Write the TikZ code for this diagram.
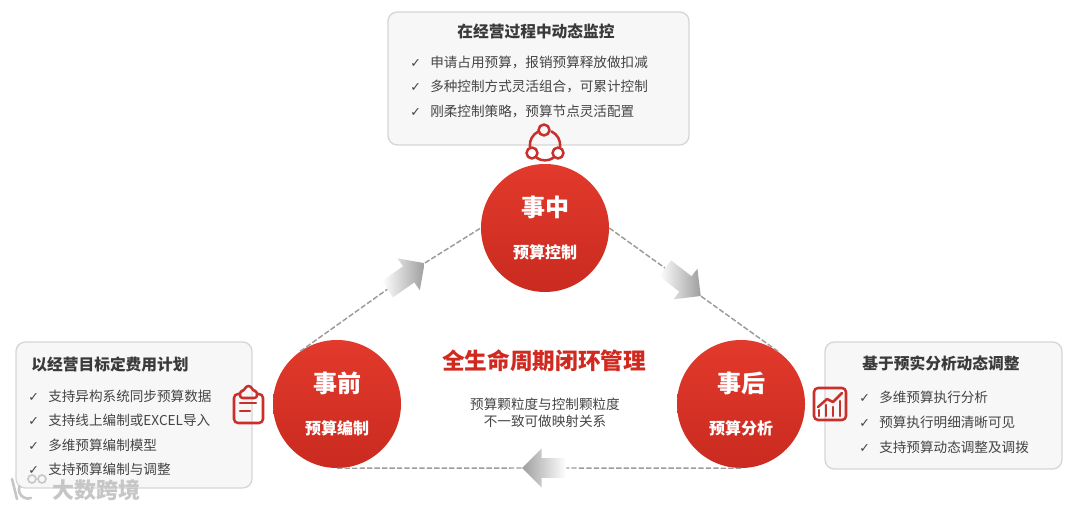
\documentclass[tikz,border=0pt]{standalone}
\usepackage{fontspec}
\setmainfont{Noto Sans CJK SC}
\newfontfamily\symfont{DejaVu Sans}
\usepackage{xcolor}
\usepackage{tikz}
\usetikzlibrary{calc,arrows.meta,positioning,shapes.arrows}
\definecolor{redx}{HTML}{C9302C}
\definecolor{redtop}{HTML}{E23A2C}
\definecolor{redlow}{HTML}{CA2A20}
\definecolor{titlered}{HTML}{D02A20}
\definecolor{softbg}{HTML}{F7F7F7}
\definecolor{boxline}{HTML}{D6D6D6}
\definecolor{inkx}{HTML}{444444}
\definecolor{dashx}{HTML}{A09A9A}
\definecolor{markx}{HTML}{C6C6C6}
\newcommand{\chk}{\makebox[15pt][l]{\symfont\fontsize{9.5}{11}\selectfont ✓}}
\tikzset{
  stagenode/.style={circle,minimum size=96pt,inner sep=0pt,top color=redtop,bottom color=redlow,text=white,align=center,font=\bfseries\fontsize{18}{22}\selectfont},
  cardbox/.style={draw=boxline,line width=1pt,rounded corners=7pt,fill=softbg,inner sep=0pt},
  cardtitle/.style={text=inkx!85!black,font=\bfseries\fontsize{11.8}{14}\selectfont,inner sep=0pt},
  carditem/.style={text=inkx,anchor=west,font=\fontsize{10.2}{13}\selectfont,inner sep=0pt},
  dashline/.style={draw=dashx,line width=1.1pt,dash pattern=on 4pt off 1.6pt},
  flowarrow/.style={single arrow,draw=none,inner xsep=0pt,inner ysep=7.2pt,single arrow head extend=7.2pt,minimum width=28.5pt,left color=white,right color=black!38},
  iconline/.style={draw=redx,line width=1.9pt,line cap=round,line join=round}
}
\begin{document}
\begin{tikzpicture}[x=0.75pt,y=0.75pt]
\useasboundingbox (0,0) rectangle (1080,510);
\node[cardbox,minimum width=225.75pt,minimum height=99.75pt] (boxtop) at (538.5,431.5) {};
\node[cardbox,minimum width=177pt,minimum height=109.5pt] (boxleft) at (134,95) {};
\node[cardbox,minimum width=177.75pt,minimum height=95.25pt] (boxright) at (943.5,104.5) {};
\node[stagenode] (zhong) at (545,282) {事中\\[10pt]{\fontsize{12}{14}\selectfont 预算控制}};
\node[stagenode] (qian) at (337,106) {事前\\[10pt]{\fontsize{12}{14}\selectfont 预算编制}};
\node[stagenode] (hou) at (741,106) {事后\\[10pt]{\fontsize{12}{14}\selectfont 预算分析}};
\node[flowarrow,minimum height=34pt,rotate=35] (arrowa) at (402,231) {};
\node[flowarrow,minimum height=34pt,rotate=-38] (arrowb) at (679,231) {};
\node[flowarrow,minimum height=33pt,rotate=180,left color=black!38,right color=white] (arrowc) at (549,42) {};
\draw[dashline] (qian.125) -- (arrowa.tail);
\draw[dashline] (arrowa.tip) -- (zhong.180);
\draw[dashline] (zhong.0) -- (arrowb.tail);
\draw[dashline] (arrowb.tip) -- (hou.54);
\draw[dashline] (hou.270) -- (arrowc.tail);
\draw[dashline] (arrowc.tip) -- (qian.270);
\node[cardtitle] (titletop) at (536,479) {在经营过程中动态监控};
\node[carditem] (topa) at (410,448) {\chk 申请占用预算，报销预算释放做扣减};
\node[carditem] (topb) at (410,424) {\chk 多种控制方式灵活组合，可累计控制};
\node[carditem] (topc) at (410,399) {\chk 刚柔控制策略，预算节点灵活配置};
\node[cardtitle] (titleleft) at (110,146) {以经营目标定费用计划};
\node[carditem] (lefta) at (28,114) {\chk 支持异构系统同步预算数据};
\node[carditem] (leftb) at (28,90) {\chk 支持线上编制或EXCEL导入};
\node[carditem] (leftc) at (28,65) {\chk 多维预算编制模型};
\node[carditem] (leftd) at (28,41) {\chk 支持预算编制与调整};
\node[cardtitle] (titleright) at (941,147) {基于预实分析动态调整};
\node[carditem] (righta) at (859,113) {\chk 多维预算执行分析};
\node[carditem] (rightb) at (859,88) {\chk 预算执行明细清晰可见};
\node[carditem] (rightc) at (859,63) {\chk 支持预算动态调整及调拨};
\node[text=titlered,font=\bfseries\fontsize{17}{20}\selectfont,inner sep=0pt] (maintitle) at (544,149) {全生命周期闭环管理};
\node[text=inkx,align=center,font=\fontsize{10.2}{12.8}\selectfont,inner sep=0pt] (subtitle) at (545,97) {预算颗粒度与控制颗粒度\\不一致可做映射关系};
\draw[iconline] (544,380) circle (5.5);
\draw[iconline] (532,357) circle (5.5);
\draw[iconline] (558,357) circle (5.5);
\draw[iconline] (545,364.8) ++(115:15.2) arc[start angle=115,end angle=186,radius=15.2];
\draw[iconline] (545,364.8) ++(236:15.2) arc[start angle=236,end angle=304,radius=15.2];
\draw[iconline] (545,364.8) ++(65:15.2) arc[start angle=65,end angle=-6,radius=15.2];
\draw[iconline,rounded corners=3pt] (240,116) -- (234,116) -- (234,87) -- (263,87) -- (263,116) -- (257,116);
\draw[iconline,rounded corners=2pt] (240,112) -- (240,119) -- (244,119) -- (246,124) -- (251,124) -- (253,119) -- (257,119) -- (257,112) -- cycle;
\draw[iconline] (240,107) -- (256,107);
\draw[iconline] (240,99) -- (250,99);
\draw[iconline,rounded corners=3pt] (814,90) rectangle (846,122);
\draw[iconline] (819,94) -- (819,100);
\draw[iconline] (826,94) -- (826,105);
\draw[iconline] (833,94) -- (833,103);
\draw[iconline] (840,94) -- (840,109);
\draw[iconline] (818,103) -- (827,111) -- (833,108) -- (842,117);
\node[text=markx,font=\bfseries\fontsize{16.5}{20}\selectfont,inner sep=0pt] (markname) at (96,20) {大数跨境};
\draw[draw=markx,line width=2pt,line cap=round] (12,31) -- (17,11);
\draw[draw=markx,line width=2pt,line cap=round] (31,12) arc[start angle=-70,end angle=-200,radius=9];
\draw[draw=markx,line width=1.2pt] (32,31) circle (4) (42,31) circle (4);
\end{tikzpicture}
\end{document}
